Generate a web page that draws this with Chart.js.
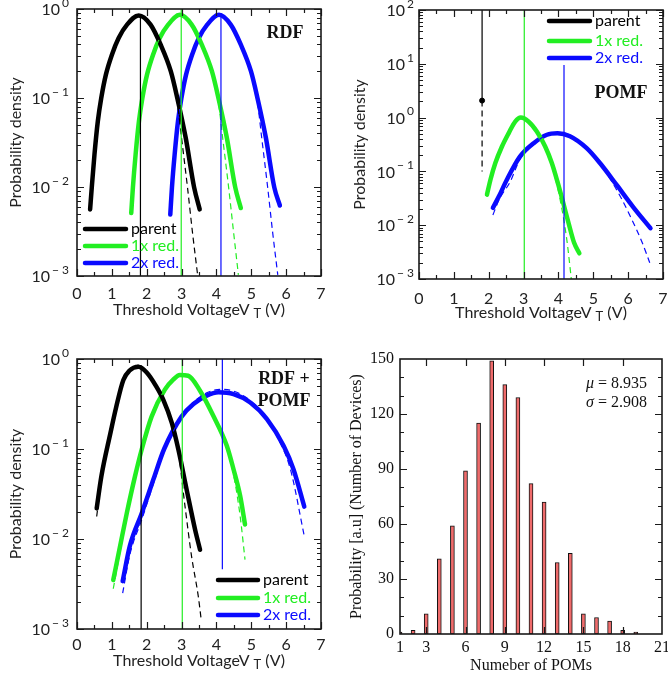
<!DOCTYPE html>
<html>
<head>
<meta charset="utf-8">
<script src="https://cdn.jsdelivr.net/npm/chart.js@4.4.1/dist/chart.umd.min.js"></script>
<style>
  body { margin: 0; background: #fff; }
  #wrap { position: relative; width: 668px; height: 676px; overflow: hidden; }
  canvas { position: absolute; }
</style>
</head>
<body>
<div id="wrap">
  <canvas id="rdf" width="334" height="336" style="left:0;top:0"></canvas>
  <canvas id="pomf" width="334" height="336" style="left:334px;top:0"></canvas>
  <canvas id="both" width="334" height="340" style="left:0;top:336px"></canvas>
  <canvas id="hist" width="334" height="340" style="left:334px;top:336px"></canvas>
</div>
<script>
// ---- colours / fonts
var BLACK = '#000000', GREEN = '#22ee22', BLUE = '#0a0aff';
var SANS = 'Lato, "Open Sans", sans-serif';
var SERIF = '"Liberation Serif", "DejaVu Serif", serif';

// ---- shared axis ticks
var vtTicks = [0, 1, 2, 3, 4, 5, 6, 7];
var seriesNames = ['parent', '1x red.', '2x red.'];

// ---- RDF panel (simulated = solid, fit = dashed)
var rdfParentX = [0.376, 0.424, 0.501, 0.597, 0.694, 0.829, 1.002, 1.195, 1.436, 1.773, 2.11, 2.40, 2.69, 2.88, 3.12, 3.36, 3.52];
var rdfParentY = [0.0056, 0.0099, 0.0231, 0.0546, 0.099, 0.183, 0.307, 0.472, 0.667, 0.847, 0.667, 0.397, 0.2, 0.099, 0.0355, 0.0099, 0.0056];
var rdfParentFitX = [0.376, 0.424, 0.501, 0.597, 0.694, 0.829, 1.002, 1.195, 1.436, 1.773, 2.11, 2.40, 2.69, 2.79, 2.88, 3.0, 3.17, 3.31, 3.46];
var rdfParentFitY = [0.0056, 0.0099, 0.0231, 0.0546, 0.099, 0.183, 0.307, 0.472, 0.667, 0.847, 0.667, 0.397, 0.2, 0.141, 0.089, 0.0355, 0.0099, 0.00316, 0.00103];
var rdfRed1X = [1.556, 1.604, 1.681, 1.777, 1.874, 2.009, 2.182, 2.375, 2.616, 2.953, 3.29, 3.58, 3.87, 4.06, 4.30, 4.54, 4.70];
var rdfRed1Y = [0.0051, 0.0099, 0.0231, 0.0546, 0.099, 0.183, 0.307, 0.472, 0.667, 0.86, 0.667, 0.397, 0.2, 0.099, 0.0355, 0.0099, 0.0058];
var rdfRed1FitX = [1.556, 1.604, 1.681, 1.777, 1.874, 2.009, 2.182, 2.375, 2.616, 2.953, 3.29, 3.58, 3.87, 3.97, 4.06, 4.18, 4.35, 4.49, 4.63];
var rdfRed1FitY = [0.0051, 0.0099, 0.0231, 0.0546, 0.099, 0.183, 0.307, 0.472, 0.667, 0.86, 0.667, 0.397, 0.2, 0.141, 0.089, 0.0355, 0.0099, 0.00316, 0.00103];
var rdfRed2X = [2.676, 2.724, 2.801, 2.897, 2.994, 3.129, 3.302, 3.495, 3.736, 4.073, 4.41, 4.70, 4.99, 5.18, 5.42, 5.66, 5.82];
var rdfRed2Y = [0.0049, 0.0099, 0.0231, 0.0546, 0.099, 0.183, 0.307, 0.472, 0.667, 0.86, 0.667, 0.397, 0.2, 0.099, 0.0355, 0.0099, 0.0062];
var rdfRed2FitX = [2.676, 2.724, 2.801, 2.897, 2.994, 3.129, 3.302, 3.495, 3.736, 4.073, 4.41, 4.70, 4.99, 5.09, 5.18, 5.30, 5.47, 5.61, 5.76];
var rdfRed2FitY = [0.0049, 0.0099, 0.0231, 0.0546, 0.099, 0.183, 0.307, 0.472, 0.667, 0.86, 0.667, 0.397, 0.2, 0.141, 0.089, 0.0355, 0.0099, 0.00316, 0.00103];
var rdfMeanX = [1.82, 2.99, 4.13];
var rdfMeanTop = [0.86, 1.0, 0.9];

// ---- POMF panel
var pomfParentX = [1.81, 1.81];
var pomfParentY = [100, 2.07];
var pomfParentFitY = [2.07, 0.1];
var pomfRed1X = [1.95, 2.05, 2.19, 2.38, 2.57, 2.76, 2.92, 3.14, 3.38, 3.62, 3.81, 3.97, 4.14, 4.29, 4.45, 4.6];
var pomfRed1Y = [0.037, 0.07, 0.143, 0.29, 0.51, 0.845, 1.0, 0.845, 0.55, 0.29, 0.143, 0.065, 0.0257, 0.011, 0.0047, 0.003];
var pomfRed1FitX = [1.95, 2.05, 2.19, 2.38, 2.57, 2.76, 2.92, 3.14, 3.38, 3.62, 3.81, 4.05, 4.24, 4.37];
var pomfRed1FitY = [0.034, 0.066, 0.138, 0.285, 0.505, 0.845, 1.0, 0.845, 0.55, 0.29, 0.13, 0.0296, 0.0054, 0.001];
var pomfRed2X = [2.12, 2.29, 2.52, 2.9, 3.29, 3.67, 3.97, 4.33, 4.81, 5.19, 5.67, 6.14, 6.64];
var pomfRed2Y = [0.021, 0.034, 0.07, 0.19, 0.335, 0.48, 0.51, 0.45, 0.27, 0.143, 0.056, 0.022, 0.0088];
var pomfRed2FitX = [2.12, 2.3, 2.62, 2.9, 3.29, 3.67, 4.0, 4.33, 4.81, 5.2, 5.5, 5.8, 6.1, 6.4, 6.62];
var pomfRed2FitY = [0.0155, 0.03, 0.065, 0.17, 0.32, 0.48, 0.53, 0.47, 0.27, 0.14, 0.07, 0.032, 0.013, 0.0048, 0.002];
var pomfMeanX = [3.02, 4.16];
var pomfMeanTop = [100, 9.5];

// ---- RDF + POMF panel
var bothParentX = [0.565, 0.70, 0.95, 1.12, 1.33, 1.50, 1.76, 2.0, 2.25, 2.48, 2.72, 2.91, 3.15, 3.39, 3.53];
var bothParentY = [0.0219, 0.05, 0.145, 0.288, 0.585, 0.74, 0.82, 0.708, 0.513, 0.35, 0.195, 0.098, 0.0347, 0.0126, 0.0076];
var bothParentFitX = [0.565, 0.70, 0.95, 1.12, 1.33, 1.50, 1.76, 2.0, 2.25, 2.48, 2.72, 2.91, 3.10, 3.29, 3.48, 3.56];
var bothParentFitY = [0.0178, 0.046, 0.14, 0.288, 0.585, 0.75, 0.85, 0.72, 0.52, 0.35, 0.19, 0.09, 0.0229, 0.0063, 0.0023, 0.0013];
var bothRed1X = [1.04, 1.23, 1.43, 1.66, 1.86, 2.14, 2.52, 2.76, 2.95, 3.19, 3.53, 3.91, 4.30, 4.49, 4.68, 4.82];
var bothRed1Y = [0.0035, 0.0081, 0.0195, 0.049, 0.1, 0.229, 0.457, 0.589, 0.664, 0.652, 0.444, 0.234, 0.108, 0.0596, 0.0302, 0.0145];
var bothRed1FitY = [0.0028, 0.007, 0.018, 0.047, 0.1, 0.229, 0.457, 0.6, 0.68, 0.66, 0.45, 0.234, 0.1, 0.052, 0.018, 0.0059];
var bothRed2X = [1.31, 1.52, 1.86, 2.19, 2.50, 3.0, 3.34, 3.72, 4.06, 4.49, 4.97, 5.45, 5.93, 6.21, 6.52];
var bothRed2Y = [0.0034, 0.0085, 0.0195, 0.0457, 0.1, 0.229, 0.316, 0.391, 0.426, 0.407, 0.329, 0.215, 0.108, 0.0596, 0.0229];
var bothRed2FitX = [1.31, 1.52, 1.86, 2.19, 2.50, 3.0, 3.34, 3.72, 4.1, 4.49, 4.97, 5.45, 5.73, 6.12, 6.52];
var bothRed2FitY = [0.0025, 0.0068, 0.0165, 0.041, 0.094, 0.229, 0.33, 0.42, 0.46, 0.44, 0.345, 0.22, 0.14, 0.06, 0.0108];
var bothMeanX = [1.84, 3.02, 4.17];
var bothMeanBottom = [0.001, 0.001, 0.0046];
var bothMeanTop = [0.85, 1.0, 1.0];

// ---- histogram of POM count
var pomN = [1, 2, 3, 4, 5, 6, 7, 8, 9, 10, 11, 12, 13, 14, 15, 16, 17, 18, 19];
var pomCount = [1, 2, 11, 41, 59, 89, 115, 149, 136, 129, 82, 72, 39, 44, 11, 9, 7, 2, 1];
var pomXTicks = [1, 3, 6, 9, 12, 15, 18, 21];
var pomYTicks = [0, 30, 60, 90, 120, 150];
var pomStatSymbols = ['\u03bc', '\u03c3'];
var pomStatValues = [' = 8.935', ' = 2.908'];

function pts(xs, ys) {
  return xs.map(function (x, i) { return { x: x, y: ys[i] }; });
}
function solid(xs, ys, c) {
  return { data: pts(xs, ys), borderColor: c, borderWidth: 4.5, pointRadius: 0,
    cubicInterpolationMode: 'monotone', borderCapStyle: 'round', fill: false };
}
function dashed(xs, ys, c) {
  return { data: pts(xs, ys), borderColor: c, borderWidth: 1.2, borderDash: [6, 4], pointRadius: 0,
    cubicInterpolationMode: 'monotone', fill: false };
}
function vline(x, y0, y1, c) {
  return { data: [{ x: x, y: y0 }, { x: x, y: y1 }], borderColor: c, borderWidth: 1.2, pointRadius: 0, tension: 0 };
}

function minorLog(lo, hi) {
  var out = [];
  for (var e = lo; e < hi; e++) for (var k = 2; k <= 9; k++) out.push(k * Math.pow(10, e));
  return out;
}

// draws frame, inward ticks, log labels, x title with subscript, legend and notes
var deco = {
  id: 'deco',
  afterDatasetsDraw: function (chart, args, o) {
    var ctx = chart.ctx, a = chart.chartArea, sx = chart.scales.x, sy = chart.scales.y;
    ctx.save();
    ctx.strokeStyle = '#1a1a1a';
    ctx.lineWidth = 1.2;
    function xt(vals, len) {
      vals.forEach(function (v) {
        var p = Math.round(sx.getPixelForValue(v)) + 0.5;
        ctx.beginPath();
        ctx.moveTo(p, a.bottom); ctx.lineTo(p, a.bottom - len);
        ctx.moveTo(p, a.top); ctx.lineTo(p, a.top + len);
        ctx.stroke();
      });
    }
    function yt(vals, len) {
      vals.forEach(function (v) {
        var p = Math.round(sy.getPixelForValue(v)) + 0.5;
        ctx.beginPath();
        ctx.moveTo(a.left, p); ctx.lineTo(a.left + len, p);
        ctx.moveTo(a.right, p); ctx.lineTo(a.right - len, p);
        ctx.stroke();
      });
    }
    xt(o.xMajor || [], 7); xt(o.xMinor || [], 4);
    yt(o.yMajor || [], 7); yt(o.yMinor || [], 4);
    ctx.lineWidth = 1.6;
    ctx.strokeRect(a.left, a.top, a.right - a.left, a.bottom - a.top);

    // log tick labels 10^n
    if (o.logExp) {
      ctx.fillStyle = '#222';
      ctx.textBaseline = 'middle';
      o.logExp.forEach(function (e) {
        var p = sy.getPixelForValue(Math.pow(10, e));
        var es = e < 0 ? '\u2212 ' + (-e) : String(e);
        ctx.font = '12px ' + SANS;
        var ew = ctx.measureText(es).width;
        var r = a.left - o.logGap;
        ctx.textAlign = 'right';
        ctx.fillText(es, r, p - 6);
        ctx.font = '16px ' + SANS;
        ctx.fillText('10', r - ew - 2, p + 1);
      });
    }

    // x title with subscript T
    if (o.xTitleY) {
      var parts = [['Threshold VoltageV ', 16, 0], ['T', 13, 4], [' (V)', 16, 0]];
      var w = 0;
      parts.forEach(function (q) { ctx.font = q[1] + 'px ' + SANS; w += ctx.measureText(q[0]).width; });
      var x = (a.left + a.right) / 2 - w / 2;
      ctx.fillStyle = '#222';
      ctx.textAlign = 'left';
      ctx.textBaseline = 'middle';
      parts.forEach(function (q) {
        ctx.font = q[1] + 'px ' + SANS;
        ctx.fillText(q[0], x, o.xTitleY + q[2]);
        x += ctx.measureText(q[0]).width;
      });
    }

    // legend
    if (o.legend) {
      var L = o.legend;
      [BLACK, GREEN, BLUE].forEach(function (c, i) {
        var yy = L.rows[i];
        ctx.strokeStyle = c;
        ctx.lineWidth = 4.5;
        ctx.lineCap = 'round';
        ctx.beginPath(); ctx.moveTo(L.x0, yy); ctx.lineTo(L.x1, yy); ctx.stroke();
        ctx.fillStyle = c;
        ctx.font = '16px ' + SANS;
        ctx.textAlign = 'left';
        ctx.textBaseline = 'middle';
        ctx.fillText(seriesNames[i], L.x1 + 5, yy);
      });
    }

    // panel notes
    (o.notes || []).forEach(function (n) {
      ctx.fillStyle = '#111';
      ctx.font = n.font;
      ctx.textAlign = n.align || 'center';
      ctx.textBaseline = 'middle';
      ctx.fillText(n.text, n.x, n.y);
    });

    // right-aligned stats with italic symbol
    (o.stats || []).forEach(function (s) {
      ctx.fillStyle = '#111';
      ctx.textBaseline = 'middle';
      ctx.textAlign = 'right';
      ctx.font = '16px ' + SERIF;
      ctx.fillText(s.value, s.x, s.y);
      var vw = ctx.measureText(s.value).width;
      ctx.font = 'italic 16px ' + SERIF;
      ctx.fillText(s.sym, s.x - vw, s.y);
    });
    ctx.restore();
  }
};

function noPad(s) { s.paddingLeft = 0; s.paddingRight = 0; s.paddingTop = 0; s.paddingBottom = 0; }

function logPanel(id, datasets, c) {
  new Chart(document.getElementById(id), {
    type: 'line',
    data: { datasets: datasets },
    options: {
      responsive: false,
      animation: false,
      layout: { padding: c.pad },
      plugins: { legend: { display: false }, tooltip: { enabled: false }, deco: c.deco },
      scales: {
        x: {
          type: 'linear', min: 0, max: 7,
          afterFit: function (s) { s.height = c.xh; noPad(s); },
          afterBuildTicks: function (s) { s.ticks = vtTicks.map(function (v) { return { value: v }; }); },
          ticks: { font: { family: SANS, size: 16 }, color: '#222', padding: c.xtp, maxRotation: 0 },
          grid: { display: false, drawTicks: false },
          border: { display: false }
        },
        y: {
          type: 'logarithmic', min: c.ymin, max: c.ymax,
          afterFit: function (s) { s.width = c.yw; noPad(s); },
          ticks: { display: false },
          grid: { display: false, drawTicks: false },
          border: { display: false },
          title: { display: true, text: 'Probability density', color: '#222',
            font: { family: SANS, size: 16 }, padding: { top: c.ytp, bottom: 0 } }
        }
      }
    },
    plugins: [deco]
  });
}

var halfTicks = [0.5, 1.5, 2.5, 3.5, 4.5, 5.5, 6.5];

// RDF
logPanel('rdf', [
  vline(rdfMeanX[0], 0.001, rdfMeanTop[0], BLACK),
  vline(rdfMeanX[1], 0.001, rdfMeanTop[1], GREEN),
  vline(rdfMeanX[2], 0.001, rdfMeanTop[2], BLUE),
  dashed(rdfParentFitX, rdfParentFitY, BLACK),
  dashed(rdfRed1FitX, rdfRed1FitY, GREEN),
  dashed(rdfRed2FitX, rdfRed2FitY, BLUE),
  solid(rdfParentX, rdfParentY, BLACK),
  solid(rdfRed1X, rdfRed1Y, GREEN),
  solid(rdfRed2X, rdfRed2Y, BLUE)
], {
  pad: { left: 0, right: 13, top: 9, bottom: 0 }, xh: 60, yw: 77, xtp: 8, ytp: 6,
  ymin: 0.001, ymax: 1,
  deco: {
    xMajor: vtTicks, xMinor: halfTicks, yMajor: [0.001, 0.01, 0.1, 1], yMinor: minorLog(-3, 0),
    logExp: [0, -1, -2, -3], logGap: 8, xTitleY: 310,
    legend: { x0: 85, x1: 126, rows: [229, 246, 263] },
    notes: [{ text: 'RDF', x: 285, y: 33, font: 'bold 18px ' + SERIF }]
  }
});

// POMF
logPanel('pomf', [
  vline(pomfMeanX[0], 0.001, pomfMeanTop[0], GREEN),
  vline(pomfMeanX[1], 0.001, pomfMeanTop[1], BLUE),
  { data: pts(pomfParentX.slice(0, 1), pomfParentY.slice(1)), showLine: false, pointRadius: 2.5,
    pointBackgroundColor: BLACK, pointBorderColor: BLACK },
  { data: pts(pomfParentX, pomfParentY), borderColor: BLACK, borderWidth: 1.2, pointRadius: 0, tension: 0 },
  { data: pts(pomfParentX, pomfParentFitY), borderColor: BLACK, borderWidth: 1.2, borderDash: [6, 4], pointRadius: 0, tension: 0 },
  dashed(pomfRed1FitX, pomfRed1FitY, GREEN),
  dashed(pomfRed2FitX, pomfRed2FitY, BLUE),
  solid(pomfRed1X, pomfRed1Y, GREEN),
  solid(pomfRed2X, pomfRed2Y, BLUE)
], {
  pad: { left: 0, right: 4, top: 10, bottom: 0 }, xh: 57, yw: 85, xtp: 10, ytp: 16,
  ymin: 0.001, ymax: 100,
  deco: {
    xMajor: vtTicks, xMinor: halfTicks, yMajor: [0.001, 0.01, 0.1, 1, 10, 100], yMinor: minorLog(-3, 2),
    logExp: [2, 1, 0, -1, -2, -3], logGap: 5, xTitleY: 313,
    legend: { x0: 215, x1: 256, rows: [21, 41, 58] },
    notes: [{ text: 'POMF', x: 287, y: 93, font: 'bold 18px ' + SERIF }]
  }
});

// RDF + POMF
logPanel('both', [
  vline(bothMeanX[0], bothMeanBottom[0], bothMeanTop[0], BLACK),
  vline(bothMeanX[1], bothMeanBottom[1], bothMeanTop[1], GREEN),
  vline(bothMeanX[2], bothMeanBottom[2], bothMeanTop[2], BLUE),
  dashed(bothParentFitX, bothParentFitY, BLACK),
  dashed(bothRed1X, bothRed1FitY, GREEN),
  dashed(bothRed2FitX, bothRed2FitY, BLUE),
  solid(bothParentX, bothParentY, BLACK),
  solid(bothRed1X, bothRed1Y, GREEN),
  solid(bothRed2X, bothRed2Y, BLUE)
], {
  pad: { left: 0, right: 13, top: 23, bottom: 0 }, xh: 47, yw: 77, xtp: 6, ytp: 6,
  ymin: 0.001, ymax: 1,
  deco: {
    xMajor: vtTicks, xMinor: halfTicks, yMajor: [0.001, 0.01, 0.1, 1], yMinor: minorLog(-3, 0),
    logExp: [0, -1, -2, -3], logGap: 8, xTitleY: 325,
    legend: { x0: 218, x1: 258, rows: [244, 262, 279] },
    notes: [
      { text: 'RDF +', x: 284, y: 43, font: 'bold 18px ' + SERIF },
      { text: 'POMF', x: 284, y: 65, font: 'bold 18px ' + SERIF }
    ]
  }
});

// histogram
var histMinorY = [];
for (var v = 10; v < 150; v += 10) if (v % 30) histMinorY.push(v);

new Chart(document.getElementById('hist'), {
  type: 'bar',
  data: {
    datasets: [{
      data: pts(pomN, pomCount),
      backgroundColor: '#ef6b6b',
      borderColor: '#111',
      borderWidth: 1,
      borderSkipped: false,
      barThickness: 4
    }]
  },
  options: {
    responsive: false,
    animation: false,
    layout: { padding: { left: 0, right: 6, top: 23, bottom: 0 } },
    plugins: {
      legend: { display: false }, tooltip: { enabled: false },
      deco: {
        xMajor: pomXTicks.slice(1, -1), yMajor: pomYTicks.slice(1, -1), yMinor: histMinorY,
        stats: [
          { sym: pomStatSymbols[0], value: pomStatValues[0], x: 313, y: 48 },
          { sym: pomStatSymbols[1], value: pomStatValues[1], x: 313, y: 67 }
        ]
      }
    },
    scales: {
      x: {
        type: 'linear', min: 1, max: 21, offset: false,
        afterFit: function (s) { s.height = 42; noPad(s); },
        afterBuildTicks: function (s) { s.ticks = pomXTicks.map(function (v) { return { value: v }; }); },
        ticks: { font: { family: SERIF, size: 16 }, color: '#111', padding: 4, maxRotation: 0 },
        grid: { display: false, drawTicks: false },
        border: { display: false },
        title: { display: true, text: 'Numeber of POMs', color: '#111',
          font: { family: SERIF, size: 16 }, padding: { top: 0, bottom: 1 } }
      },
      y: {
        min: 0, max: 150,
        afterFit: function (s) { s.width = 66; noPad(s); },
        afterBuildTicks: function (s) { s.ticks = pomYTicks.map(function (v) { return { value: v }; }); },
        ticks: { font: { family: SERIF, size: 16 }, color: '#111', padding: 6 },
        grid: { display: false, drawTicks: false },
        border: { display: false },
        title: { display: true, text: 'Probability [a.u] (Number of Devices)', color: '#111',
          font: { family: SERIF, size: 16 }, padding: { top: 13, bottom: 0 } }
      }
    }
  },
  plugins: [deco]
});
</script>
</body>
</html>
